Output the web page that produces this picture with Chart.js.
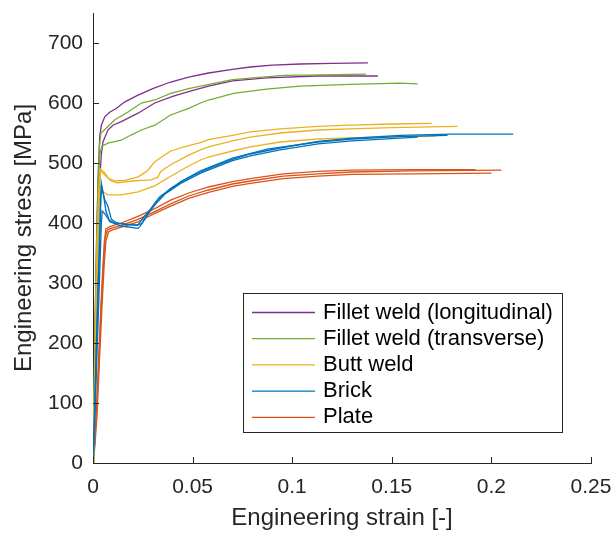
<!DOCTYPE html>
<html>
<head>
<meta charset="utf-8">
<title>Engineering stress-strain curves</title>
<script src="https://cdn.jsdelivr.net/npm/chart.js@4.4.1/dist/chart.umd.min.js"></script>
<style>
  body { margin: 0; background: #fff; }
  #wrap { width: 616px; height: 533px; }
</style>
</head>
<body>
<div id="wrap"><canvas id="stressStrain" width="616" height="533"></canvas></div>
<script>
// Test series: [engineering strain, engineering stress in MPa]
const filletLong1 = [[0,0],[0.0006,120],[0.0012,260],[0.0019,390],[0.0027,490],[0.0034,545],[0.0042,563],[0.0059,577],[0.0085,585],[0.0113,590],[0.016,602],[0.0226,613],[0.030,624],[0.039,635],[0.048,643],[0.058,650],[0.070,656],[0.079,660],[0.090,663],[0.104,665],[0.120,666],[0.138,667]];
const filletLong2 = [[0,0],[0.0007,110],[0.0015,250],[0.0024,380],[0.0033,470],[0.0042,515],[0.005,535],[0.0075,555],[0.010,563],[0.0142,569],[0.0226,583],[0.031,600],[0.040,611],[0.048,619],[0.058,628],[0.070,637],[0.087,642],[0.1125,645],[0.143,645]];

const filletTrans1 = [[0,0],[0.0005,110],[0.0011,240],[0.0018,370],[0.0026,470],[0.0033,530],[0.004,550],[0.0066,558],[0.011,572],[0.0176,585],[0.0243,600],[0.031,605],[0.039,616],[0.048,624],[0.054,628],[0.070,639],[0.0956,646],[0.115,647],[0.137,648]];
const filletTrans2 = [[0,0],[0.0006,120],[0.0013,260],[0.0021,390],[0.0028,480],[0.0034,515],[0.0045,528],[0.0075,533],[0.0142,538],[0.0193,547],[0.0243,555],[0.031,563],[0.039,580],[0.048,591],[0.054,600],[0.058,605],[0.0706,616],[0.087,623],[0.104,628],[0.129,631],[0.154,633],[0.163,632]];

const butt1 = [[0,0],[0.0006,100],[0.0013,230],[0.0021,360],[0.0029,450],[0.0037,490],[0.0055,485],[0.008,474],[0.011,470],[0.016,471],[0.0226,477],[0.027,486],[0.031,502],[0.039,520],[0.048,529],[0.054,534],[0.058,539],[0.070,546],[0.079,552],[0.094,557],[0.113,561],[0.129,563],[0.150,565],[0.170,566]];
const butt2 = [[0,0],[0.0007,110],[0.0014,240],[0.0022,370],[0.003,455],[0.0038,487],[0.006,480],[0.009,470],[0.012,467],[0.020,470],[0.029,472],[0.0325,476],[0.034,486],[0.039,497],[0.048,513],[0.054,522],[0.058,527],[0.070,537],[0.079,543],[0.094,550],[0.113,555],[0.129,557],[0.150,559],[0.183,561]];
const butt3 = [[0,0],[0.0008,110],[0.0016,240],[0.0024,360],[0.0031,440],[0.0036,462],[0.005,452],[0.0075,447],[0.014,447],[0.0226,452],[0.031,462],[0.039,478],[0.048,495],[0.054,505],[0.058,510],[0.070,520],[0.079,527],[0.094,535],[0.113,540],[0.129,542],[0.150,544],[0.172,545]];

const brick1 = [[0,0],[0.0008,90],[0.0016,190],[0.0025,290],[0.0033,380],[0.0038,440],[0.0042,466],[0.0052,448],[0.0065,420],[0.0084,402],[0.010,400],[0.0142,395],[0.0226,391],[0.0235,394],[0.0268,410],[0.031,433],[0.0337,444],[0.039,456],[0.044,469],[0.054,485],[0.0605,494],[0.070,506],[0.079,515],[0.094,525],[0.113,536],[0.129,541],[0.154,546],[0.180,548],[0.211,548]];
const brick2 = [[0,0],[0.0009,90],[0.0018,200],[0.0027,300],[0.0035,390],[0.004,445],[0.0044,458],[0.006,438],[0.0075,428],[0.0092,406],[0.012,400],[0.018,397],[0.0225,396],[0.025,408],[0.029,424],[0.033,441],[0.039,458],[0.048,476],[0.054,487],[0.070,508],[0.0875,523],[0.113,535],[0.130,540],[0.154,544],[0.178,546]];
const brick3 = [[0,0],[0.001,80],[0.002,180],[0.003,280],[0.0037,350],[0.0042,400],[0.0046,420],[0.006,415],[0.008,405],[0.011,400],[0.016,398],[0.022,397],[0.0245,399],[0.027,413],[0.031,430],[0.036,448],[0.044,466],[0.054,483],[0.070,504],[0.079,512],[0.094,522],[0.113,532],[0.130,537],[0.163,543]];

const plate1 = [[0,0],[0.0008,35],[0.0017,85],[0.0028,170],[0.004,265],[0.005,330],[0.0057,370],[0.0065,390],[0.0085,394],[0.0142,400],[0.0226,411],[0.031,424],[0.039,438],[0.048,450],[0.058,460],[0.070,469],[0.079,474],[0.0955,482],[0.113,486],[0.130,488],[0.160,489],[0.192,489]];
const plate2 = [[0,0],[0.0009,35],[0.0019,90],[0.003,175],[0.0042,265],[0.0053,335],[0.0061,375],[0.0072,388],[0.009,391],[0.0142,396],[0.0226,406],[0.031,419],[0.039,432],[0.048,445],[0.058,455],[0.070,465],[0.079,470],[0.0955,478],[0.113,482],[0.130,485],[0.160,487],[0.205,488]];
const plate3 = [[0,0],[0.001,30],[0.0021,85],[0.0033,175],[0.0045,260],[0.0056,330],[0.0065,370],[0.0078,385],[0.0095,388],[0.0142,393],[0.0226,402],[0.031,416],[0.039,428],[0.048,441],[0.058,451],[0.070,461],[0.079,466],[0.0955,474],[0.113,478],[0.130,481],[0.160,482],[0.200,483]];

// Legend entries and their colours (MATLAB default palette)
const seriesNames = ['Fillet weld (longitudinal)', 'Fillet weld (transverse)', 'Butt weld', 'Brick', 'Plate'];
const seriesColors = ['#7E2F8E', '#77AC30', '#EDB120', '#0072BD', '#D95319'];
const seriesCurves = [
    [filletLong1, filletLong2],
    [filletTrans1, filletTrans2],
    [butt1, butt2, butt3],
    [brick1, brick2, brick3],
    [plate1, plate2, plate3]
];

// Axis ticks
const strainTicks = [0, 0.05, 0.1, 0.15, 0.2, 0.25];
const stressTicks = [0, 100, 200, 300, 400, 500, 600, 700];

const axisColor = '#262626';
const fontFamily = "'Liberation Sans', Arial, Helvetica, sans-serif";

// Curves drawn in this order end up on top of the later ones
const drawOrder = [3, 2, 1, 0, 4];
const datasets = [];
drawOrder.forEach(s => {
    seriesCurves[s].forEach(curve => {
        datasets.push({
            label: seriesNames[s],
            data: curve.map(p => ({ x: p[0], y: p[1] })),
            borderColor: seriesColors[s],
            borderWidth: 1.3,
            pointRadius: 0,
            tension: 0,
            fill: false
        });
    });
});

// Short tick marks pointing into the plot area
const innerTicks = {
    id: 'innerTicks',
    afterDraw(chart) {
        const { ctx, chartArea, scales } = chart;
        ctx.save();
        ctx.strokeStyle = axisColor;
        ctx.lineWidth = 1;
        ctx.beginPath();
        stressTicks.forEach(v => {
            const y = Math.round(scales.y.getPixelForValue(v)) + 0.5;
            ctx.moveTo(chartArea.left, y);
            ctx.lineTo(chartArea.left + 6, y);
        });
        strainTicks.forEach(v => {
            const x = Math.round(scales.x.getPixelForValue(v)) + 0.5;
            ctx.moveTo(x, chartArea.bottom);
            ctx.lineTo(x, chartArea.bottom - 6);
        });
        ctx.stroke();
        ctx.restore();
    }
};

// Boxed legend in the lower right of the axes
const boxLegend = {
    id: 'boxLegend',
    afterDraw(chart) {
        const ctx = chart.ctx;
        const box = { left: 243.5, top: 293.5, width: 319, height: 139 };
        ctx.save();
        ctx.fillStyle = '#ffffff';
        ctx.fillRect(box.left, box.top, box.width, box.height);
        ctx.strokeStyle = axisColor;
        ctx.lineWidth = 1;
        ctx.strokeRect(box.left, box.top, box.width, box.height);

        ctx.font = '22px ' + fontFamily;
        ctx.textBaseline = 'middle';
        ctx.textAlign = 'left';
        seriesNames.forEach((name, i) => {
            const y = 312.5 + i * 26.2;
            ctx.strokeStyle = seriesColors[i];
            ctx.lineWidth = 1.3;
            ctx.beginPath();
            ctx.moveTo(252, y);
            ctx.lineTo(315, y);
            ctx.stroke();
            ctx.fillStyle = '#000000';
            ctx.fillText(name, 323, y);
        });
        ctx.restore();
    }
};

const ctx = document.getElementById('stressStrain').getContext('2d');
new Chart(ctx, {
    type: 'line',
    data: { datasets: datasets },
    options: {
        responsive: false,
        animation: false,
        events: [],
        layout: { padding: { top: 13, right: 25, left: 0, bottom: 0 } },
        plugins: {
            legend: { display: false },
            tooltip: { enabled: false }
        },
        scales: {
            x: {
                type: 'linear',
                min: 0,
                max: 0.25,
                grid: { display: false, drawTicks: false },
                border: { display: true, color: axisColor, width: 1 },
                ticks: {
                    stepSize: 0.05,
                    padding: 12,
                    color: axisColor,
                    font: { family: fontFamily, size: 21 },
                    maxRotation: 0,
                    callback: v => String(+v.toFixed(3))
                },
                title: {
                    display: true,
                    text: 'Engineering strain [-]',
                    color: axisColor,
                    font: { family: fontFamily, size: 24 },
                    padding: { top: 0, bottom: 0 }
                },
                afterFit: scale => {
                    scale.height = 70;
                    scale.paddingLeft = 0;
                    scale.paddingRight = 0;
                }
            },
            y: {
                type: 'linear',
                min: 0,
                max: 750,
                grid: { display: false, drawTicks: false },
                border: { display: true, color: axisColor, width: 1 },
                ticks: {
                    stepSize: 100,
                    includeBounds: false,
                    padding: 10,
                    color: axisColor,
                    font: { family: fontFamily, size: 21 }
                },
                title: {
                    display: true,
                    text: 'Engineering stress [MPa]',
                    color: axisColor,
                    font: { family: fontFamily, size: 24 },
                    padding: { top: 10, bottom: 0 }
                },
                afterFit: scale => {
                    scale.width = 93;
                    scale.paddingTop = 0;
                    scale.paddingBottom = 0;
                }
            }
        }
    },
    plugins: [innerTicks, boxLegend]
});
</script>
</body>
</html>
